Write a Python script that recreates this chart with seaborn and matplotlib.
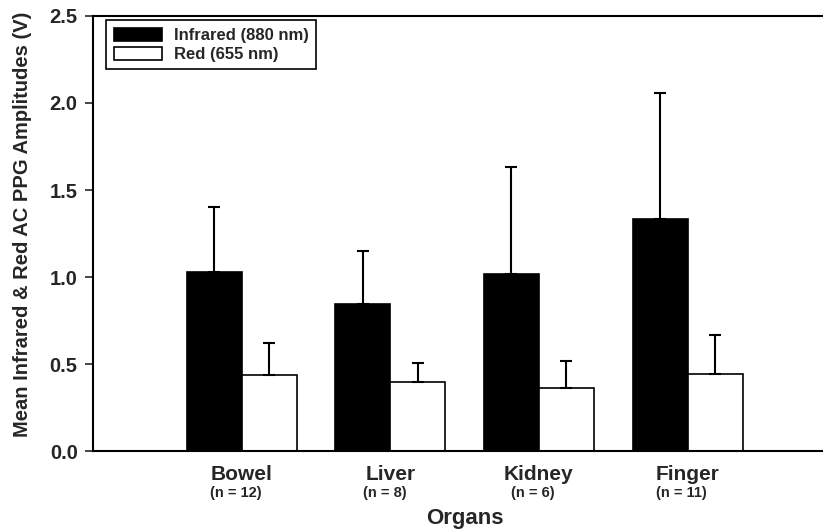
import numpy as np
import pandas as pd
import seaborn as sns
import matplotlib.pyplot as plt

# --- data ---
organs = ['Bowel', 'Liver', 'Kidney', 'Finger']
n_labels = ['(n = 12)', '(n = 8)', '(n = 6)', '(n = 11)']
series = ['Infrared (880 nm)', 'Red (655 nm)']
ir_mean = [1.03, 0.845, 1.02, 1.335]
ir_sd = [0.375, 0.305, 0.615, 0.72]
red_mean = [0.435, 0.40, 0.36, 0.445]
red_sd = [0.185, 0.105, 0.155, 0.225]

df = pd.DataFrame({
    'organ': organs * 2,
    'wavelength': [series[0]] * len(organs) + [series[1]] * len(organs),
    'amp': ir_mean + red_mean,
})

sns.set_style('ticks')
plt.rcParams['font.family'] = ['Liberation Sans', 'DejaVu Sans']
plt.rcParams['font.weight'] = 'bold'

fig = plt.figure(figsize=(8.23, 5.32), dpi=100)
ax = fig.add_axes([0.113, 0.152, 0.903, 0.818])

sns.barplot(data=df, x='organ', y='amp', hue='wavelength',
            palette=['black', 'white'], saturation=1, edgecolor='black',
            linewidth=1.2, width=0.74, errorbar=None, ax=ax)

# upward-only SD bars
for cont, sds in zip(ax.containers, [ir_sd, red_sd]):
    for bar, e in zip(cont, sds):
        xc = bar.get_x() + bar.get_width() / 2
        ax.errorbar(xc, bar.get_height(), yerr=[[0], [e]], color='black',
                    capsize=4, elinewidth=1.5, capthick=1.5, zorder=5)

ax.set_xlim(-1, 4)
ax.set_ylim(0, 2.5)
yt = np.arange(0, 2.51, 0.5)
ax.set_yticks(yt)
ax.set_yticklabels([f'{v:.1f}' for v in yt])
ax.tick_params(axis='y', direction='out', length=6, width=1.2, labelsize=14.5, pad=5)
ax.tick_params(axis='x', length=0, labelsize=15, pad=10)
for s in ax.spines.values():
    s.set_visible(True)
    s.set_linewidth(1.5)
    s.set_color('black')

for i, nl in enumerate(n_labels):
    ax.text(i - 0.04, -0.097, nl, transform=ax.get_xaxis_transform(),
            ha='center', va='center', fontsize=10.5, fontweight='bold')

ax.set_xlabel('')
ax.set_ylabel('')
ax.text(0.5, -0.168, 'Organs', transform=ax.transAxes, ha='center',
        va='baseline', fontsize=16, fontweight='bold')
ax.text(-0.095, 0.522, 'Mean Infrared & Red AC PPG Amplitudes (V)',
        rotation=90, ha='center', va='center', transform=ax.transAxes,
        fontsize=14.5, fontweight='bold')

leg = ax.legend(loc='upper left', bbox_to_anchor=(0.0175, 0.99), frameon=True,
                fancybox=False, edgecolor='black', framealpha=1,
                handlelength=2.9, handleheight=0.85, borderpad=0.45,
                labelspacing=0.2, handletextpad=0.7, borderaxespad=0,
                prop={'weight': 'bold', 'size': 12})
leg.get_frame().set_linewidth(1.2)

fig.savefig('out.png', dpi=100)
